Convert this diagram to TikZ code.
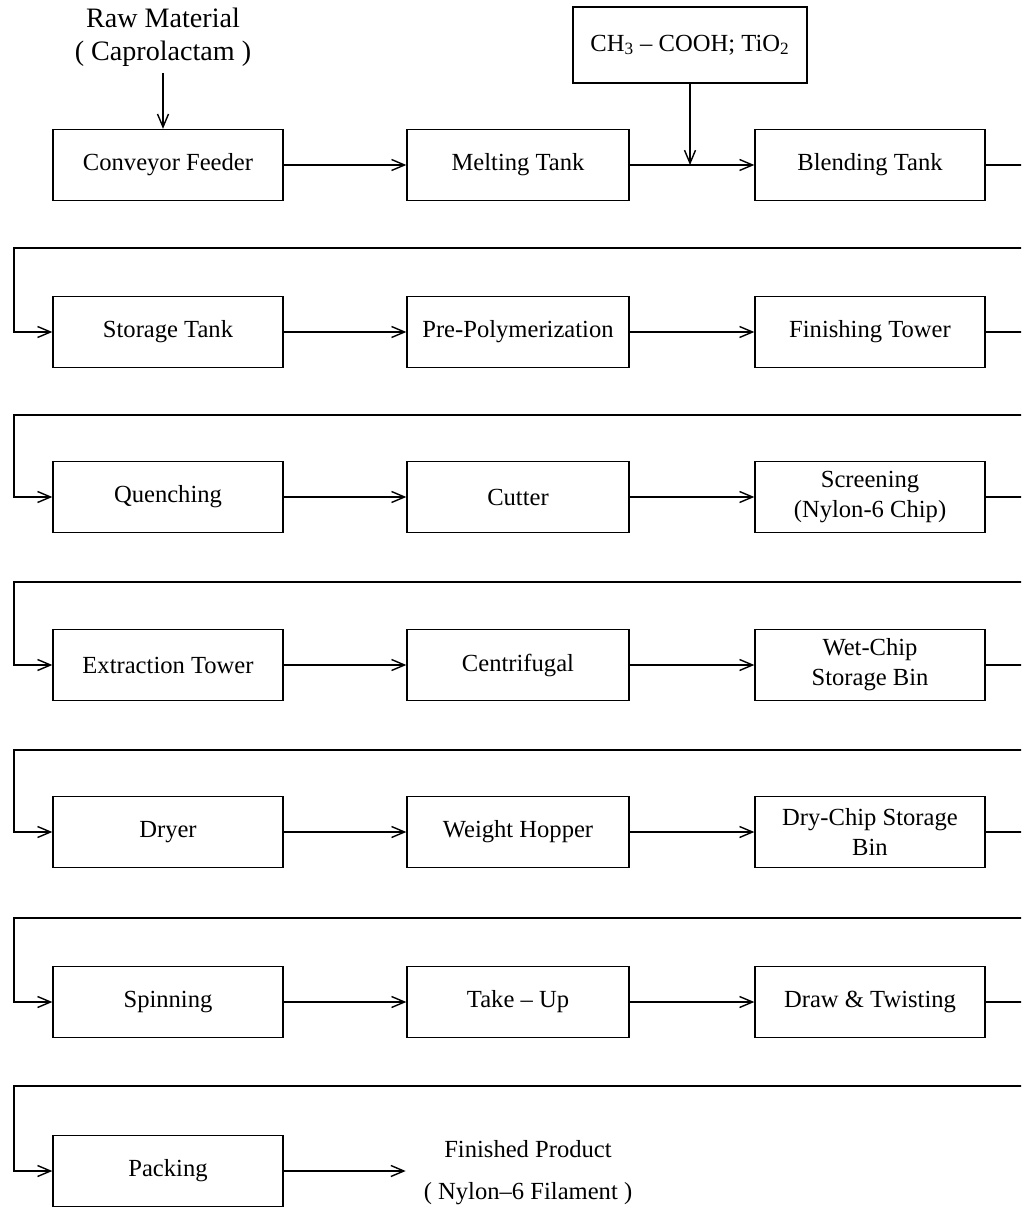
\documentclass[tikz,border=0pt]{standalone}
\usepackage{fontspec}
\setmainfont{Liberation Serif}
\usetikzlibrary{positioning,arrows.meta}

\begin{document}
\begin{tikzpicture}[%
    x=0.02cm, y=-0.02cm,
    >={Straight Barb[length=2.6mm,width=2.2mm]},
    line width=0.8pt,
    every node/.style={font=\fontsize{14}{17}\selectfont},
    unit/.style={draw, minimum width=4.6cm, minimum height=1.42cm,
        align=center, inner sep=2pt}
]
\useasboundingbox (0,0) rectangle (1021,1212);
\clip (0,0) rectangle (1021,1212);

% row 1
\node[align=center, font=\fontsize{16}{19}\selectfont] (raw) at (163,37)
    {Raw Material\\( Caprolactam )};
\node[unit] (conveyor) at (168,165) {Conveyor Feeder};
\node[unit, minimum width=4.44cm] (melting) at (518,165) {Melting Tank};
\node[unit] (blending) at (870,165) {Blending Tank};
\node[draw, minimum width=4.68cm, minimum height=1.52cm] (additive) at (690,45)
    {CH\textsubscript{3} -- COOH; TiO\textsubscript{2}};

% row 2
\node[unit] (storage) at (168,332) {Storage Tank};
\node[unit, minimum width=4.44cm] (prepoly) at (518,332) {Pre-Polymerization};
\node[unit] (finishing) at (870,332) {Finishing Tower};

% row 3
\node[unit] (quench) at (168,497) {Quenching};
\node[unit, minimum width=4.44cm] (cutter) at (518,497) {Cutter};
\node[unit] (screening) at (870,497) {Screening\\(Nylon-6 Chip)};

% row 4
\node[unit] (extraction) at (168,665) {Extraction Tower};
\node[unit, minimum width=4.44cm] (centrifugal) at (518,665) {Centrifugal};
\node[unit] (wetbin) at (870,665) {Wet-Chip\\Storage Bin};

% row 5
\node[unit] (dryer) at (168,832) {Dryer};
\node[unit, minimum width=4.44cm] (hopper) at (518,832) {Weight Hopper};
\node[unit] (drybin) at (870,832) {Dry-Chip Storage\\Bin};

% row 6
\node[unit] (spinning) at (168,1002) {Spinning};
\node[unit, minimum width=4.44cm] (takeup) at (518,1002) {Take -- Up};
\node[unit] (twisting) at (870,1002) {Draw \& Twisting};

% row 7
\node[unit] (packing) at (168,1171) {Packing};
\node[align=center] (product) at (528,1173)
    {Finished Product\\[7pt]( Nylon--6 Filament )};

% feed lines
\draw[->] (raw.south) -- (raw.south |- conveyor.north);
\coordinate (join) at (additive.south |- melting.east);
\draw[->] (additive.south) -- (join);

% straight flow in each row
\draw[->] (conveyor) -- (melting);
\draw[->] (melting) -- (blending);
\draw[->] (storage) -- (prepoly);
\draw[->] (prepoly) -- (finishing);
\draw[->] (quench) -- (cutter);
\draw[->] (cutter) -- (screening);
\draw[->] (extraction) -- (centrifugal);
\draw[->] (centrifugal) -- (wetbin);
\draw[->] (dryer) -- (hopper);
\draw[->] (hopper) -- (drybin);
\draw[->] (spinning) -- (takeup);
\draw[->] (takeup) -- (twisting);
\draw[->] (packing.east) -- ++(122,0) coordinate (tip);

% return lines, running out past the right edge
\draw[->] (blending.east) -- ++(80,0) |- (14,248) |- (storage.west);
\draw[->] (finishing.east) -- ++(80,0) |- (14,415) |- (quench.west);
\draw[->] (screening.east) -- ++(80,0) |- (14,582) |- (extraction.west);
\draw[->] (wetbin.east) -- ++(80,0) |- (14,750) |- (dryer.west);
\draw[->] (drybin.east) -- ++(80,0) |- (14,918) |- (spinning.west);
\draw[->] (twisting.east) -- ++(80,0) |- (14,1086) |- (packing.west);

\end{tikzpicture}
\end{document}
